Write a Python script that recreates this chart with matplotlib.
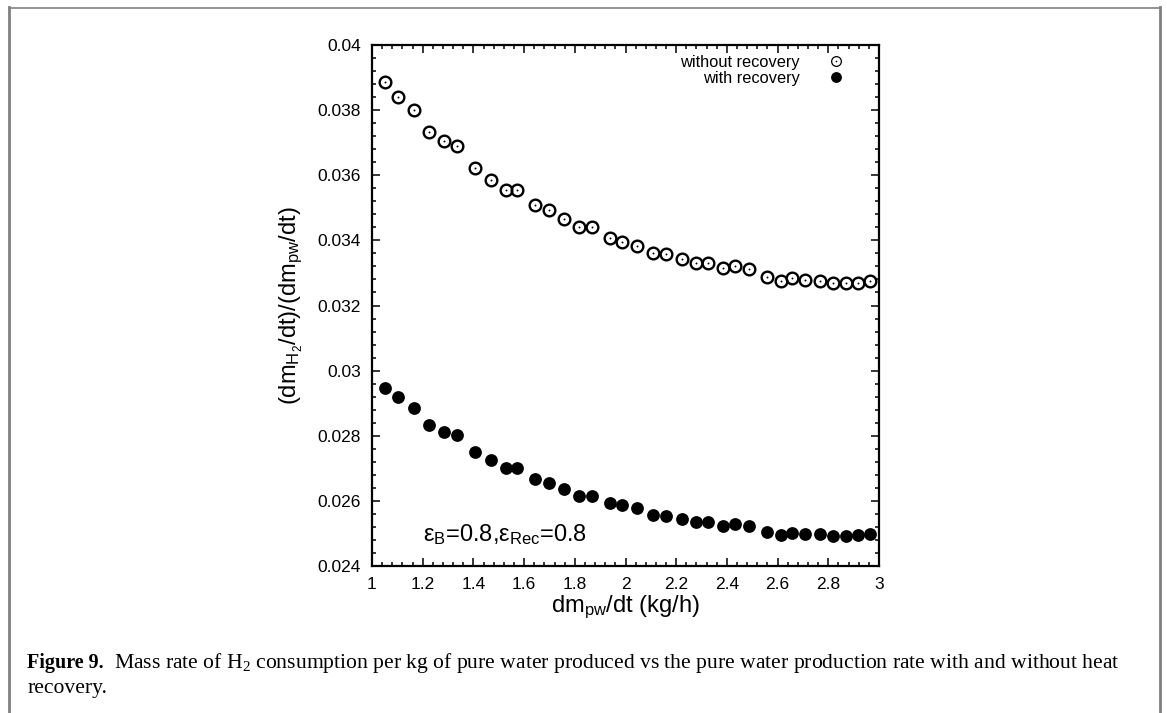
import matplotlib
matplotlib.use("Agg")
import matplotlib.pyplot as plt
from matplotlib.lines import Line2D
from matplotlib.ticker import MultipleLocator, FuncFormatter

plt.rcParams['font.family'] = ['Liberation Sans', 'DejaVu Sans']
plt.rcParams['mathtext.default'] = 'regular'

# production rate of pure water (kg/h)
flow_rate = [1.053, 1.103, 1.164, 1.226, 1.284, 1.334, 1.406, 1.468, 1.527, 1.571,
             1.643, 1.698, 1.757, 1.818, 1.868, 1.939, 1.985, 2.044, 2.110, 2.160,
             2.222, 2.277, 2.327, 2.386, 2.432, 2.487, 2.559, 2.613, 2.656, 2.708,
             2.767, 2.817, 2.869, 2.918, 2.965]

# H2 consumed per kg of pure water
without_recovery = [0.03885, 0.03841, 0.03800, 0.03732, 0.03705, 0.03691, 0.03623,
                    0.03585, 0.03555, 0.03555, 0.03509, 0.03493, 0.03465, 0.03442,
                    0.03442, 0.03408, 0.03396, 0.03384, 0.03360, 0.03357, 0.03342,
                    0.03330, 0.03330, 0.03316, 0.03322, 0.03311, 0.03287, 0.03276,
                    0.03285, 0.03278, 0.03276, 0.03270, 0.03268, 0.03270, 0.03274]

with_recovery = [0.02947, 0.02920, 0.02884, 0.02833, 0.02812, 0.02802, 0.02751,
                 0.02725, 0.02702, 0.02702, 0.02666, 0.02654, 0.02635, 0.02615,
                 0.02615, 0.02592, 0.02587, 0.02577, 0.02557, 0.02555, 0.02543,
                 0.02536, 0.02536, 0.02524, 0.02529, 0.02524, 0.02505, 0.02495,
                 0.02502, 0.02498, 0.02498, 0.02493, 0.02493, 0.02495, 0.02498]

x_ticks = [1, 1.2, 1.4, 1.6, 1.8, 2, 2.2, 2.4, 2.6, 2.8, 3]
y_ticks = [0.024, 0.026, 0.028, 0.03, 0.032, 0.034, 0.036, 0.038, 0.04]

fig = plt.figure(figsize=(11.67, 7.13), dpi=100)
ax = fig.add_axes([372 / 1167, 1 - 566 / 713, (879 - 372) / 1167, (566 - 45) / 713])

# open circles with a centre dot
ax.plot(flow_rate, without_recovery, linestyle='none', marker='o', ms=8.4,
        mfc='none', mec='black', mew=1.7)
ax.plot(flow_rate, without_recovery, linestyle='none', marker='o', ms=1.4,
        mfc='black', mec='black', mew=0)
# filled circles
ax.plot(flow_rate, with_recovery, linestyle='none', marker='o', ms=9.2,
        mfc='black', mec='black', mew=0)

ax.set_xlim(1, 3)
ax.set_ylim(0.024, 0.04)
ax.set_xticks(x_ticks)
ax.set_yticks(y_ticks)
ax.xaxis.set_minor_locator(MultipleLocator(0.04))
ax.yaxis.set_minor_locator(MultipleLocator(0.0004))
ax.xaxis.set_major_formatter(FuncFormatter(lambda v, p: f"{v:g}"))
ax.yaxis.set_major_formatter(FuncFormatter(lambda v, p: f"{v:g}"))

ax.tick_params(which='both', direction='in', top=True, right=True, width=1.1,
               labelsize=12.5, colors='black')
ax.tick_params(which='major', length=6, pad=8)
ax.tick_params(which='minor', length=3)
for s in ax.spines.values():
    s.set_linewidth(1.6)

ax.set_xlabel("dm$_{pw}$/dt (kg/h)", fontsize=17, labelpad=1)
ax.set_ylabel("(dm$_{H_2}$/dt)/(dm$_{pw}$/dt)", fontsize=17, labelpad=9)

ax.text(0.1, 0.048, "ε$_B$=0.8,ε$_{Rec}$=0.8", transform=ax.transAxes,
        fontsize=17, ha='left', va='baseline')

open_h = Line2D([], [], linestyle='none', marker='o', ms=7.0, mfc='none',
                mec='black', mew=0.9)
dot_h = Line2D([], [], linestyle='none', marker='o', ms=1.2, mfc='black', mew=0)
fill_h = Line2D([], [], linestyle='none', marker='o', ms=7.8, mfc='black', mew=0)
ax.legend([(open_h, dot_h), fill_h], ["without recovery", "with recovery"],
          loc='upper right', bbox_to_anchor=(0.95, 1.0), frameon=False,
          markerfirst=False, fontsize=11.8, handlelength=1.0, handletextpad=1.7,
          labelspacing=0.05, borderaxespad=0.2)

# page frame around the figure
grey = '#808080'
fig.add_artist(Line2D([9 / 1167, 1160 / 1167], [1 - 7.5 / 713] * 2,
                      transform=fig.transFigure, color=grey, lw=1.2))
fig.add_artist(Line2D([9 / 1167] * 2, [0, 1 - 7 / 713],
                      transform=fig.transFigure, color=grey, lw=2))
fig.add_artist(Line2D([1160 / 1167] * 2, [0, 1 - 7 / 713],
                      transform=fig.transFigure, color=grey, lw=2))

# caption
serif = ['Liberation Serif', 'DejaVu Serif']
renderer = fig.canvas.get_renderer()
cx = 27 / 1167
cy1 = 1 - 668 / 713
cy2 = 1 - 693 / 713
head = fig.text(cx, cy1, "Figure 9.", family=serif, fontsize=14.5,
                fontweight='bold', va='baseline')
bb = head.get_window_extent(renderer)
fig.text((bb.x1 + 10) / 1167, cy1,
         "Mass rate of H$_2$ consumption per kg of pure water produced vs the "
         "pure water production rate with and without heat",
         family=serif, fontsize=15.6, va='baseline')
fig.text(cx, cy2, "recovery.", family=serif, fontsize=15.6, va='baseline')

fig.savefig("out.png", dpi=100)
